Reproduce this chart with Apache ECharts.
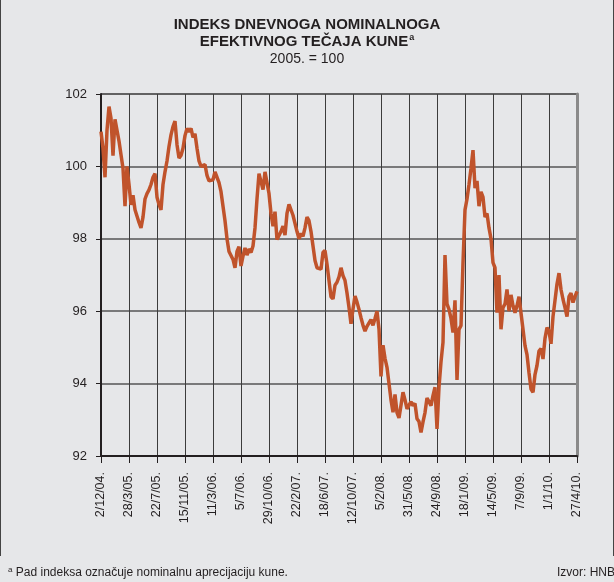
<!DOCTYPE html>
<html>
<head>
<meta charset="utf-8">
<script src="https://cdn.jsdelivr.net/npm/echarts@6/dist/echarts.min.js"></script>
<style>
  html, body { margin: 0; padding: 0; background: #e6e7e9; }
  #chart { width: 614px; height: 582px; }
</style>
</head>
<body>
<div id="chart"></div>
<script>
// tick labels, one every 14 samples (every 116 days)
var tickLabels = ['2/12/04.', '28/3/05.', '22/7/05.', '15/11/05.', '11/3/06.', '5/7/06.',
  '29/10/06.', '22/2/07.', '18/6/07.', '12/10/07.', '5/2/08.', '31/5/08.', '24/9/08.',
  '18/1/09.', '14/5/09.', '7/9/09.', '1/1/10.', '27/4/10.'];
var samplesPerTick = 14;

// index values, one sample about every 8 days
var index2004_05 = [
  100.96, 100.5, 99.7, 101.0, 101.65, 101.33, 100.3, 101.3, 101.0, 100.7,
  100.32, 99.95, 98.9, 100.0, 99.5, 98.94, 99.2, 98.8, 98.75, 98.45,
  98.3, 98.6, 99.1, 99.25, 99.35, 99.5, 99.7, 99.8, 99.15, 98.95,
  98.8, 99.5, 99.85, 100.15, 100.55, 100.87, 101.1, 101.25, 100.6, 100.23,
  100.3, 100.5, 100.85, 101.05, 100.95, 101.05, 100.8, 100.9, 100.5, 100.15
];
var index2006_07 = [
  100.0, 100.05, 100.05, 99.75, 99.6, 99.55, 99.63, 99.85, 99.9, 99.55,
  99.3, 98.9, 98.5, 98.0, 97.65, 97.7, 97.43, 97.2, 97.65, 97.78,
  97.25, 97.52, 97.75, 97.55, 97.72, 97.62, 97.8, 98.3, 99.1, 99.8,
  99.75, 99.36, 99.85, 99.9, 99.25, 98.7, 98.35, 98.75, 97.98, 97.95,
  98.2, 98.35, 98.1, 98.7, 98.95, 98.9, 98.65, 98.6, 98.2, 98.0,
  98.15, 98.07, 98.3, 98.6, 98.5, 98.2, 97.8, 97.4, 97.2, 97.2,
  97.16, 97.62, 97.68, 97.3, 96.85, 96.4, 96.34, 96.72, 96.8, 96.95
];
var index2008 = [
  97.2, 96.98, 96.85, 96.5, 96.1, 95.65, 96.06, 96.42, 96.25, 96.05,
  95.82, 95.61, 95.45, 95.58, 95.62, 95.77, 95.61, 95.8, 96.0, 95.5,
  94.2, 95.06, 94.7, 94.45, 94.0, 93.55, 93.21, 93.7, 93.2, 93.05,
  93.4, 93.76, 93.55, 93.3, 93.35, 93.5, 93.39, 93.45, 93.03, 92.95,
  92.65, 92.94, 93.2, 93.6, 93.5, 93.39, 93.67, 93.9, 92.75, 93.9
];
var index2009_10 = [
  94.6, 95.14, 97.55, 96.2, 96.05, 95.8, 95.41, 96.3, 94.1, 95.5,
  95.6, 97.34, 98.8, 99.1, 99.5, 99.95, 100.45, 99.4, 99.6, 98.9,
  99.3, 99.15, 98.6, 98.7, 98.3, 98.0, 97.34, 97.2, 95.96, 97.0,
  95.5, 96.1, 96.2, 96.6, 96.0, 96.45, 96.15, 95.96, 96.15, 96.4,
  95.95, 95.5, 95.05, 94.8, 94.3, 93.85, 93.76, 94.25, 94.5, 94.9,
  94.97, 94.68, 95.25, 95.55, 95.45, 95.1, 95.85, 96.3, 96.75, 97.05,
  96.6, 96.33, 96.1, 95.85, 96.4, 96.5, 96.24, 96.4, 96.55
];

var values = [].concat(index2004_05, index2006_07, index2008, index2009_10);
var lastSample = (tickLabels.length - 1) * samplesPerTick;

var fontFamily = '"Liberation Sans", Arial, sans-serif';
var chart = echarts.init(document.getElementById('chart'));

var option = {
  backgroundColor: '#e6e7e9',
  animation: false,
  textStyle: { fontFamily: fontFamily, color: '#231f20' },
  title: {
    left: 'center',
    top: 11,
    text: '{b|INDEKS DNEVNOGA NOMINALNOGA}\n{b|EFEKTIVNOG TEČAJA KUNE}{sup|a}\n{n|2005. = 100}',
    textStyle: {
      rich: {
        b: { fontSize: 15, fontWeight: 'bold', color: '#231f20', fontFamily: fontFamily, lineHeight: 17 },
        sup: { fontSize: 9, fontWeight: 'bold', color: '#231f20', fontFamily: fontFamily, verticalAlign: 'top', lineHeight: 17, padding: [0, 0, 6, 1] },
        n: { fontSize: 14, fontWeight: 'normal', color: '#231f20', fontFamily: fontFamily, lineHeight: 18 }
      }
    }
  },
  grid: {
    left: 101,
    right: 37,
    top: 94,
    bottom: 126,
    show: true,
    borderColor: '#333',
    borderWidth: 1
  },
  xAxis: {
    type: 'value',
    min: 0,
    max: lastSample,
    interval: samplesPerTick,
    axisLine: { show: true, onZero: false, lineStyle: { color: '#231f20', width: 2 } },
    axisTick: { show: true, length: 7, lineStyle: { color: '#231f20', width: 1 } },
    axisLabel: {
      rotate: 90,
      margin: 16,
      fontSize: 12.5,
      color: '#231f20',
      showMaxLabel: true,
      formatter: function (v) {
        return tickLabels[Math.round(v / samplesPerTick)] || '';
      }
    },
    splitLine: { show: true, lineStyle: { color: '#3c3c3c', width: 1 } }
  },
  yAxis: [{
    type: 'value',
    min: 92,
    max: 102,
    interval: 2,
    axisLine: { show: true, lineStyle: { color: '#231f20', width: 2 } },
    axisTick: { show: true, length: 5, lineStyle: { color: '#231f20' } },
    axisLabel: { margin: 14, fontSize: 13, color: '#231f20' },
    splitLine: { show: true, lineStyle: { color: '#555', width: 1.5 } }
  }, {
    type: 'value',
    position: 'right',
    min: 92,
    max: 102,
    axisLine: { show: true, lineStyle: { color: '#8a8a8a', width: 3 } },
    axisTick: { show: false },
    axisLabel: { show: false },
    splitLine: { show: false }
  }],
  graphic: [
    { type: 'line', shape: { x1: 0.5, y1: 0, x2: 0.5, y2: 556 }, style: { stroke: '#444', lineWidth: 1 } },
    { type: 'line', shape: { x1: 613.5, y1: 0, x2: 613.5, y2: 556 }, style: { stroke: '#444', lineWidth: 1 } },
    {
      type: 'text', left: 8, top: 566,
      style: {
        text: '{sup|a} Pad indeksa označuje nominalnu aprecijaciju kune.',
        fill: '#231f20',
        font: '12px ' + fontFamily,
        rich: { sup: { fontSize: 8, verticalAlign: 'top', padding: [0, 0, 5, 0] } }
      }
    },
    {
      type: 'text', right: -1, top: 567,
      style: { text: 'Izvor: HNB', fill: '#231f20', font: '12px ' + fontFamily }
    }
  ],
  series: [{
    type: 'line',
    showSymbol: false,
    data: values.map(function (v, i) { return [i, v]; }),
    lineStyle: { color: '#c0532b', width: 3.5 },
    itemStyle: { color: '#c0532b' }
  }]
};

chart.setOption(option);
</script>
</body>
</html>
